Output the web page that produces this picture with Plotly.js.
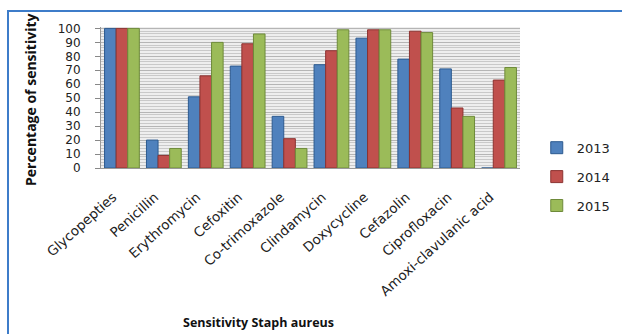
<!DOCTYPE html>
<html>
<head>
<meta charset="utf-8">
<script src="https://cdn.plot.ly/plotly-3.0.1.min.js"></script>
<style>
  html, body { margin: 0; padding: 0; background: #fff; }
  #frame { position: absolute; left: 7px; top: 10px; width: 700px; height: 400px; border: 2px solid #3d7cc9; box-sizing: border-box; }
  #chart { position: absolute; left: 0; top: 0; width: 622px; height: 334px; }
</style>
</head>
<body>
<div id="frame"></div>
<div id="chart"></div>
<script>
const categories = ["Glycopepties", "Penicillin", "Erythromycin", "Cefoxitin", "Co-trimoxazole",
  "Clindamycin", "Doxycycline", "Cefazolin", "Ciprofloxacin", "Amoxi-clavulanic acid"];
const seriesNames = ["2013", "2014", "2015"];
const values2013 = [100, 20, 51, 73, 37, 74, 93, 78, 71, 0];
const values2014 = [100, 9, 66, 89, 21, 84, 99, 98, 43, 63];
const values2015 = [100, 14, 90, 96, 14, 99, 99, 97, 37, 72];
const yTicks = [0, 10, 20, 30, 40, 50, 60, 70, 80, 90, 100];

const colors = ["#4f81bd", "#c0504d", "#9bbb59"];
const edge = ["#2c5a8f", "#8c3331", "#6e8a3a"];
const allValues = [values2013, values2014, values2015];

const traces = allValues.map((v, i) => ({
  type: "bar",
  name: seriesNames[i],
  legendgroup: "g" + i,
  x: categories,
  y: v,
  marker: { color: colors[i], line: { color: edge[i], width: 1 } },
  hoverinfo: "x+y"
}));

const font = "'Open Sans', 'Noto Sans', sans-serif";
const wide = "'DejaVu Sans', sans-serif";
const layout = {
  width: 622, height: 334,
  paper_bgcolor: "rgba(0,0,0,0)",
  plot_bgcolor: "#eeeeee",
  margin: { l: 101, r: 102, t: 27, b: 166, autoexpand: false },
  barmode: "group",
  bargap: 0.17,
  bargroupgap: 0,
  showlegend: true,
  legend: {
    x: 1.04, y: 0.25, xanchor: "left", yanchor: "top",
    font: { family: wide, size: 13, color: "#222" },
    itemwidth: 30, tracegroupgap: 9,
    bgcolor: "rgba(0,0,0,0)"
  },
  xaxis: {
    tickangle: -42,
    tickfont: { family: wide, size: 13.5, color: "#222" },
    ticklabelstandoff: 15,
    ticklabelshift: -9,
    showline: true, linecolor: "#999", linewidth: 1,
    ticks: "", automargin: false
  },
  yaxis: {
    range: [0, 101], tickvals: yTicks,
    tickfont: { family: wide, size: 12, color: "#222" },
    ticks: "outside", ticklen: 5, tickcolor: "#888", ticklabelstandoff: 12,
    showline: true, linecolor: "#999",
    showgrid: true, gridcolor: "#b5b5b5", gridwidth: 1,
    minor: { dtick: 2, showgrid: true, gridcolor: "#c9c9c9", gridwidth: 1 },
    zeroline: false, automargin: false
  },
  annotations: [
    { text: "<b>Percentage of sensitivity</b>", xref: "paper", yref: "paper",
      x: (30 - 101) / 419, y: 1 - (100 - 27) / 141, textangle: -90, showarrow: false,
      xanchor: "center", yanchor: "middle",
      font: { family: font, size: 14, color: "#111" } },
    { text: "<b>Sensitivity Staph aureus</b>", xref: "paper", yref: "paper",
      x: (258 - 101) / 419, y: 1 - (322 - 27) / 141, showarrow: false,
      xanchor: "center", yanchor: "middle",
      font: { family: font, size: 12.5, color: "#111" } }
  ]
};

Plotly.newPlot("chart", traces, layout, { displayModeBar: false, staticPlot: true });
</script>
</body>
</html>
